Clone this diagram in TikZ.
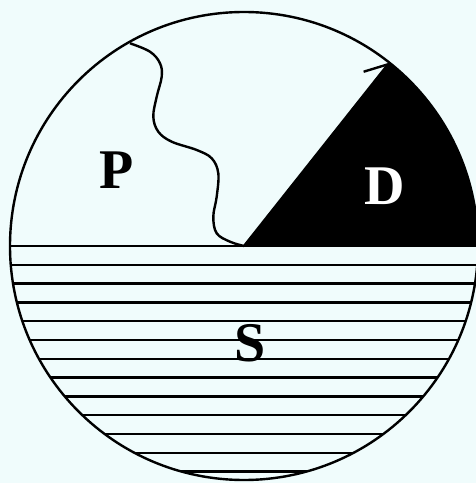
\documentclass[tikz,border=0pt]{standalone}
\usepackage{fontspec}
\setmainfont{Liberation Serif}
\usetikzlibrary{arrows.meta}
\definecolor{bgc}{RGB}{240,252,252}
\tikzset{
  ln/.style={line width=2.4pt, black},
  lbl/.style={font=\fontsize{56}{56}\selectfont\bfseries, inner sep=0pt},
}
\begin{document}
\begin{tikzpicture}[x=1pt,y=1pt]
\useasboundingbox (0,0) rectangle (476,483);
\fill[bgc] (0,0) rectangle (476,483);
\coordinate (O) at (244,237);
\coordinate (A) at ([shift={(244,237)}]51.6:234pt);
\coordinate (W) at (130,439.7);
% black sector D
\fill[black] (O) -- ++(0:234pt) arc[start angle=0, end angle=51.6, radius=234pt] -- cycle;
% hatch lines S
\begin{scope}
  \clip (O) circle[radius=234pt];
  \foreach \k in {0,...,12} {
    \draw[ln] (0,{237-18.8*\k}) -- (476,{237-18.8*\k});
  }
\end{scope}
% circle
\draw[ln] (O) circle[radius=234pt];
% wavy boundary
\draw[ln] plot[smooth, tension=0.6] coordinates {(W) (150,431.3) (160,419.7) (161.7,406.3) (156.7,386.3) (153.3,366.3) (158.3,351.3) (171.7,341.3) (196.7,333) (211.7,324.7) (218.3,309.7) (216.7,286.3) (213.3,266.3) (216.7,249.7) (230,241.3) (O)};
% radius arrow
\draw[ln, -{Straight Barb[length=21pt, width=29pt]}] (O) -- (A);
% labels
\node[lbl] (P) at (117,313) {P};
\node[lbl, white] (D) at (385,297) {D};
\node[lbl] (S) at (250,140) {S};
\end{tikzpicture}
\end{document}
